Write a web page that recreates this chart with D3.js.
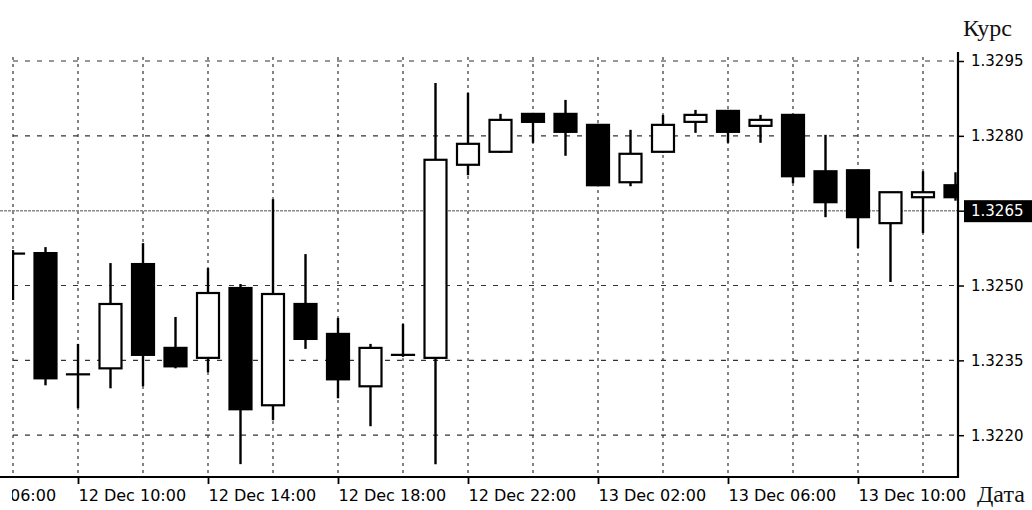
<!DOCTYPE html>
<html><head><meta charset="utf-8">
<script src="https://cdn.jsdelivr.net/npm/d3@7"></script>
<style>
html,body{margin:0;padding:0;background:#fff;}
svg{display:block;}
</style></head>
<body>
<svg id="chart" width="1032" height="510"></svg>
<script>
// ---- data ----
const times = ["2012-12-12T08:00","2012-12-12T09:00","2012-12-12T10:00","2012-12-12T11:00","2012-12-12T12:00",
 "2012-12-12T13:00","2012-12-12T14:00","2012-12-12T15:00","2012-12-12T16:00","2012-12-12T17:00",
 "2012-12-12T18:00","2012-12-12T19:00","2012-12-12T20:00","2012-12-12T21:00","2012-12-12T22:00",
 "2012-12-12T23:00","2012-12-13T00:00","2012-12-13T01:00","2012-12-13T02:00","2012-12-13T03:00",
 "2012-12-13T04:00","2012-12-13T05:00","2012-12-13T06:00","2012-12-13T07:00","2012-12-13T08:00",
 "2012-12-13T09:00","2012-12-13T10:00","2012-12-13T11:00","2012-12-13T12:00","2012-12-13T13:00"];
const opens  = [1.32564,1.32565,1.32322,1.32334,1.32543,1.32375,1.32355,1.32495,1.32260,1.32463,
                1.32403,1.32298,1.32361,1.32355,1.32742,1.32768,1.32844,1.32844,1.32822,1.32707,
                1.32768,1.32828,1.32850,1.32820,1.32842,1.32729,1.32731,1.32625,1.32677,1.32701];
const highs  = [1.32571,1.32577,1.32383,1.32545,1.32585,1.32437,1.32535,1.32503,1.32673,1.32563,
                1.32435,1.32383,1.32423,1.32906,1.32886,1.32844,1.32846,1.32872,1.32824,1.32812,
                1.32842,1.32852,1.32852,1.32842,1.32844,1.32802,1.32731,1.32687,1.32729,1.32727];
const lows   = [1.32471,1.32300,1.32254,1.32294,1.32298,1.32334,1.32326,1.32142,1.32230,1.32373,
                1.32274,1.32218,1.32357,1.32142,1.32721,1.32766,1.32786,1.32760,1.32699,1.32699,
                1.32766,1.32806,1.32786,1.32786,1.32705,1.32637,1.32575,1.32507,1.32605,1.32670];
const closes = [1.32564,1.32314,1.32322,1.32463,1.32361,1.32338,1.32485,1.32252,1.32483,1.32393,
                1.32312,1.32375,1.32361,1.32752,1.32784,1.32832,1.32828,1.32808,1.32701,1.32764,
                1.32822,1.32842,1.32808,1.32832,1.32719,1.32667,1.32637,1.32687,1.32687,1.32677];
const priceTicks = [1.3295,1.3280,1.3265,1.3250,1.3235,1.3220];
const currentPrice = 1.3265;
const gridTimes = ["2012-12-12T08:00","2012-12-12T10:00","2012-12-12T12:00","2012-12-12T14:00","2012-12-12T16:00",
 "2012-12-12T18:00","2012-12-12T20:00","2012-12-12T22:00","2012-12-13T00:00","2012-12-13T02:00",
 "2012-12-13T04:00","2012-12-13T06:00","2012-12-13T08:00","2012-12-13T10:00","2012-12-13T12:00"];
const labelTimes = ["2012-12-12T06:00","2012-12-12T10:00","2012-12-12T14:00","2012-12-12T18:00",
 "2012-12-12T22:00","2012-12-13T02:00","2012-12-13T06:00","2012-12-13T10:00"];
const yTitle = "Курс";
const xTitle = "Дата";

// ---- layout ----
const parse = d3.timeParse("%Y-%m-%dT%H:%M");
const plotLeft = 12, plotRight = 958, plotTop = 52, plotBottom = 477;
const x = d3.scaleTime()
  .domain([parse("2012-12-12T08:00"), parse("2012-12-13T13:00")])
  .range([13, 955.5]);
const y = d3.scaleLinear().domain([1.3220, 1.3295]).range([435.2, 61]);

const data = times.map((t,i)=>({t:parse(t),o:opens[i],h:highs[i],l:lows[i],c:closes[i]}));
const svg = d3.select("#chart");
svg.append("rect").attr("width",1032).attr("height",510).attr("fill","#fff");

const defs = svg.append("defs");
defs.append("clipPath").attr("id","plotclip")
  .append("rect").attr("x",plotLeft).attr("y",0).attr("width",plotRight-plotLeft).attr("height",plotBottom);
defs.append("clipPath").attr("id","labelclip")
  .append("rect").attr("x",plotLeft).attr("y",0).attr("width",1032-plotLeft).attr("height",40);

// grid
const grid = svg.append("g");
grid.selectAll("line.h").data(priceTicks.filter(v=>v!==currentPrice)).join("line")
  .attr("x1",13).attr("x2",plotRight).attr("y1",d=>y(d)).attr("y2",d=>y(d))
  .attr("stroke","#333").attr("stroke-width",1.2).attr("stroke-dasharray","5,7");
grid.selectAll("line.v").data(gridTimes.map(parse)).join("line")
  .attr("x1",d=>x(d)).attr("x2",d=>x(d)).attr("y1",57).attr("y2",plotBottom)
  .attr("stroke","#333").attr("stroke-width",1.2).attr("stroke-dasharray","3,4");
// current price line
svg.append("line").attr("x1",0).attr("x2",plotRight)
  .attr("y1",y(currentPrice)).attr("y2",y(currentPrice))
  .attr("stroke","#8a8a8a").attr("stroke-width",1.6).attr("stroke-dasharray","3,1");

// candles
const bw = 22;
const cg = svg.append("g").attr("clip-path","url(#plotclip)");
const candle = cg.selectAll("g.c").data(data).join("g");
candle.append("line")
  .attr("x1",d=>x(d.t)).attr("x2",d=>x(d.t))
  .attr("y1",d=>y(d.h)).attr("y2",d=>y(d.l))
  .attr("stroke","#000").attr("stroke-width",2.4);
candle.append("rect")
  .attr("x",d=>x(d.t)-bw/2)
  .attr("y",d=>y(Math.max(d.o,d.c)))
  .attr("width",bw)
  .attr("height",d=>Math.max(0.01,Math.abs(y(d.o)-y(d.c))))
  .attr("fill",d=>d.c<d.o?"#000":"#fff")
  .attr("stroke","#000").attr("stroke-width",2.2);

// right axis
const yAxis = d3.axisRight(y).tickValues(priceTicks).tickSize(6).tickPadding(7)
  .tickFormat(d3.format(".4f"));
const ya = svg.append("g").attr("transform",`translate(${plotRight},0)`).call(yAxis);
ya.select(".domain").remove();
ya.selectAll(".tick line").attr("stroke","#000").attr("stroke-width",1.5);
ya.selectAll(".tick text").attr("font-family","DejaVu Sans").attr("font-size",15).attr("fill","#000");
ya.selectAll(".tick").filter(d=>d===currentPrice).each(function(){
  const g = d3.select(this);
  g.insert("rect","text").attr("x",6).attr("y",-11).attr("width",70).attr("height",22).attr("fill","#000");
  g.select("text").attr("fill","#fff");
});
svg.append("line").attr("x1",plotRight).attr("x2",plotRight).attr("y1",plotTop).attr("y2",plotBottom+1)
  .attr("stroke","#000").attr("stroke-width",2.2);

// bottom axis
const xAxis = d3.axisBottom(x).tickValues(labelTimes.map(parse)).tickSize(7).tickPadding(6)
  .tickFormat(d3.timeFormat("%d %b %H:%M"));
const xa = svg.append("g").attr("transform",`translate(0,${plotBottom})`)
  .attr("clip-path","url(#labelclip)").call(xAxis);
xa.select(".domain").remove();
xa.selectAll(".tick line").attr("stroke","#000").attr("stroke-width",1.8);
xa.selectAll(".tick text").attr("text-anchor","start").attr("dx",0)
  .attr("font-family","DejaVu Sans").attr("font-size",16).attr("fill","#000");
svg.append("line").attr("x1",0).attr("x2",plotRight+1).attr("y1",plotBottom).attr("y2",plotBottom)
  .attr("stroke","#000").attr("stroke-width",2.2);

// titles
svg.append("text").attr("x",963).attr("y",36).text(yTitle)
  .attr("font-family","Liberation Serif").attr("font-size",24).attr("fill","#111");
svg.append("text").attr("x",977).attr("y",502).text(xTitle)
  .attr("font-family","Liberation Serif").attr("font-size",24).attr("fill","#111");
</script>
</body></html>
